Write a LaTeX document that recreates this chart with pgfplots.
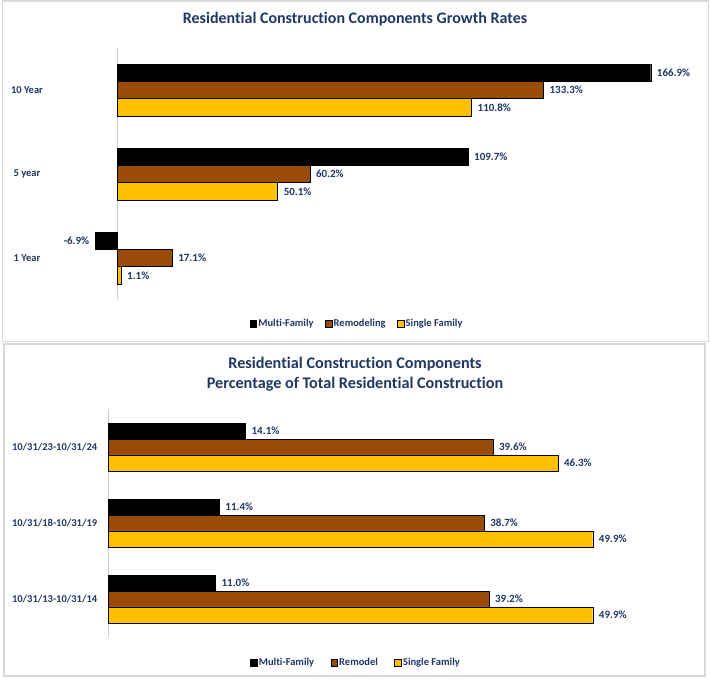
\documentclass[border=0pt]{standalone}
\usepackage{fontspec}
\setmainfont{Carlito}[Ligatures=NoCommon]
\usepackage{pgfplots}
\pgfplotsset{compat=1.18}
\definecolor{navy}{HTML}{1F3864}
\definecolor{brownbar}{HTML}{994C07}
\definecolor{goldbar}{HTML}{FFC000}
\definecolor{boxgray}{HTML}{D9D9D9}
\definecolor{axgray}{HTML}{D0D0D0}

\pgfplotsset{
  mybars/.style={
    scale only axis, clip=false, xbar,
    ymin=-0.5, ymax=2.5,
    axis line style={draw=none},
    xtick=\empty, ytick={0,1,2},
    major tick length=0pt,
    extra x ticks={0}, extra x tick labels={},
    extra x tick style={grid=major, major grid style={draw=axgray, line width=0.8pt}},
    yticklabel style={anchor=center, font=\bfseries\fontsize{10.5}{12}\selectfont, text=navy},
    point meta=x,
    nodes near coords={\pgfmathprintnumber[fixed,fixed zerofill,precision=1,assume math mode=true]{\pgfplotspointmeta}\%},
    every node near coord/.append style={font=\bfseries\fontsize{11}{12}\selectfont, text=navy, inner xsep=6pt},
    legend columns=3,
    legend style={draw=none, fill=none, font=\bfseries\fontsize{10.5}{12}\selectfont, text=navy,
      nodes={inner xsep=1.5pt}},
    legend image code/.code={\draw[#1, line width=0.5pt] (0pt,-3.3pt) rectangle (6.6pt,3.3pt);},
  }
}

\begin{document}
\begin{tikzpicture}[x=1pt,y=1pt]
\useasboundingbox (0,0) rectangle (710,-684);
\fill[white] (0,0) rectangle (710,-684);
% boxes
\draw[boxgray, line width=1.2pt] (2.5,-1) rectangle (708.5,-341.5);
\draw[boxgray, line width=2pt] (4,-344) rectangle (705,-676);

% titles
\node[font=\bfseries\fontsize{16}{19}\selectfont, text=navy] at (355,-19) {Residential Construction Components Growth Rates};
\node[font=\bfseries\fontsize{16.2}{19}\selectfont, text=navy] at (355,-364) {Residential Construction Components};
\node[font=\bfseries\fontsize{16.2}{19}\selectfont, text=navy] at (355,-384) {Percentage of Total Residential Construction};

% top chart
\begin{axis}[mybars, at={(85.55pt,-300pt)}, anchor=south west,
  width=607.05pt, height=252pt, xmin=-10, xmax=180,
  bar width=0.206,
  yticklabels={1 Year,5 year,10 Year},
  yticklabel style={xshift=-58.55pt},
  legend style={at={(0.447,-0.095)}, anchor=center,
    /tikz/every even column/.append style={column sep=10pt}}]
\addplot[fill=black, draw=black, bar shift=0.206] coordinates {(-6.9,0) (109.7,1) (166.9,2)};
\addlegendentry{Multi-Family}
\addplot[fill=brownbar, draw=black, bar shift=0] coordinates {(17.1,0) (60.2,1) (133.3,2)};
\addlegendentry{Remodeling}
\addplot[fill=goldbar, draw=black, bar shift=-0.206] coordinates {(1.1,0) (50.1,1) (110.8,2)};
\addlegendentry{Single Family}
\end{axis}

% bottom chart
\begin{axis}[mybars, at={(79.6pt,-637pt)}, anchor=south west,
  width=562.6pt, height=228pt, xmin=-3, xmax=55,
  bar width=0.21,
  yticklabels={10/31/13-10/31/14,10/31/18-10/31/19,10/31/23-10/31/24},
  yticklabel style={xshift=-25pt},
  legend style={at={(0.491,-0.114)}, anchor=center,
    /tikz/every even column/.append style={column sep=15pt}}]
\addplot[fill=black, draw=black, bar shift=0.21] coordinates {(11.0,0) (11.4,1) (14.1,2)};
\addlegendentry{Multi-Family}
\addplot[fill=brownbar, draw=black, bar shift=0] coordinates {(39.2,0) (38.7,1) (39.6,2)};
\addlegendentry{Remodel}
\addplot[fill=goldbar, draw=black, bar shift=-0.21] coordinates {(49.9,0) (49.9,1) (46.3,2)};
\addlegendentry{Single Family}
\end{axis}
\end{tikzpicture}
\end{document}
